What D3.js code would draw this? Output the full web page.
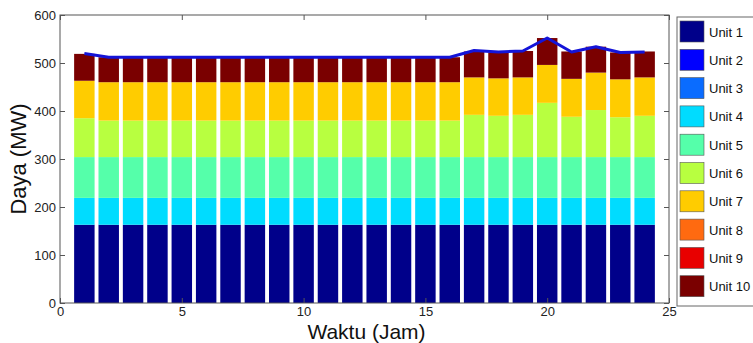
<!DOCTYPE html>
<html>
<head>
<meta charset="utf-8">
<script src="https://cdn.jsdelivr.net/npm/d3@7"></script>
<style>
  body { margin: 0; background: #fff; }
  svg { font-family: Arial, "Liberation Sans", sans-serif; }
</style>
</head>
<body>
<div id="chart"></div>
<script>
// data (MW per hour)
const hours = [1, 2, 3, 4, 5, 6, 7, 8, 9, 10, 11, 12, 13, 14, 15, 16, 17, 18, 19, 20, 21, 22, 23, 24];
const units = ['Unit 1', 'Unit 2', 'Unit 3', 'Unit 4', 'Unit 5', 'Unit 6', 'Unit 7', 'Unit 8', 'Unit 9', 'Unit 10'];
const unitColors = ['#00008a', '#0000ff', '#0a6cff', '#00dcff', '#55ffaa', '#b8ff40', '#ffcc00', '#ff6a10', '#e80000', '#7a0000'];

const unit1 = [163, 163, 163, 163, 163, 163, 163, 163, 163, 163, 163, 163, 163, 163, 163, 163, 163, 163, 163, 163, 163, 163, 163, 163];
const unit2 = [0, 0, 0, 0, 0, 0, 0, 0, 0, 0, 0, 0, 0, 0, 0, 0, 0, 0, 0, 0, 0, 0, 0, 0];
const unit3 = [0, 0, 0, 0, 0, 0, 0, 0, 0, 0, 0, 0, 0, 0, 0, 0, 0, 0, 0, 0, 0, 0, 0, 0];
const unit4 = [56, 56, 56, 56, 56, 56, 56, 56, 56, 56, 56, 56, 56, 56, 56, 56, 56, 56, 56, 56, 56, 56, 56, 56];
const unit5 = [85, 85, 85, 85, 85, 85, 85, 85, 85, 85, 85, 85, 85, 85, 85, 85, 85, 85, 85, 85, 85, 85, 85, 85];
const unit6 = [81, 76, 76, 76, 76, 76, 76, 76, 76, 76, 76, 76, 76, 76, 76, 76, 88, 86, 88, 113, 84, 98, 83, 86];
const unit7 = [78, 80, 80, 80, 80, 80, 80, 80, 80, 80, 80, 80, 80, 80, 80, 80, 78, 78, 78, 79, 79, 78, 79, 80];
const unit8 = [0, 0, 0, 0, 0, 0, 0, 0, 0, 0, 0, 0, 0, 0, 0, 0, 0, 0, 0, 0, 0, 0, 0, 0];
const unit9 = [0, 0, 0, 0, 0, 0, 0, 0, 0, 0, 0, 0, 0, 0, 0, 0, 0, 0, 0, 0, 0, 0, 0, 0];
const unit10 = [56, 52, 52, 52, 52, 52, 52, 52, 52, 52, 52, 52, 52, 52, 52, 52, 54, 54, 55, 56, 57, 54, 56, 54];
// load curve (beban)
const beban = [520, 512, 512, 512, 512, 512, 512, 512, 512, 512, 512, 512, 512, 512, 512, 512, 526, 523, 525, 552, 523, 534, 522, 523];

const xTicks = [0, 5, 10, 15, 20, 25];
const yTicks = [0, 100, 200, 300, 400, 500, 600];

function drawChart() {
  const W = 753, H = 343;
  const m = { left: 60, right: 84, top: 15, bottom: 40 };
  const pw = W - m.left - m.right;
  const ph = H - m.top - m.bottom;

  const svg = d3.select('#chart').append('svg').attr('width', W).attr('height', H);
  const g = svg.append('g').attr('transform', `translate(${m.left},${m.top})`);

  const x = d3.scaleLinear().domain([0, 25]).range([0, pw]);
  const y = d3.scaleLinear().domain([0, 600]).range([ph, 0]);

  const series = [unit1, unit2, unit3, unit4, unit5, unit6, unit7, unit8, unit9, unit10];
  const rows = hours.map((h, i) => {
    const r = { hour: h };
    units.forEach((u, k) => { r[u] = series[k][i]; });
    return r;
  });
  const stacked = d3.stack().keys(units)(rows);

  const bw = (x(1) - x(0)) * 0.84;

  g.selectAll('g.layer')
    .data(stacked)
    .enter()
    .append('g')
    .attr('class', 'layer')
    .attr('fill', (d, i) => unitColors[i])
    .selectAll('rect')
    .data((d) => d)
    .enter()
    .append('rect')
    .attr('x', (d) => x(d.data.hour) - bw / 2)
    .attr('y', (d) => y(d[1]))
    .attr('width', bw)
    .attr('height', (d) => Math.max(0, y(d[0]) - y(d[1])));

  // load line
  const line = d3.line().x((d, i) => x(hours[i])).y((d) => y(d));
  g.append('path')
    .datum(beban)
    .attr('fill', 'none')
    .attr('stroke', '#1414d8')
    .attr('stroke-width', 3)
    .attr('stroke-linejoin', 'round')
    .attr('d', line);

  // box + ticks (matlab style, ticks inside)
  const axisCol = '#555';
  g.append('rect')
    .attr('width', pw).attr('height', ph)
    .attr('fill', 'none').attr('stroke', axisCol).attr('stroke-width', 1);

  const xAxis = g.append('g').attr('transform', `translate(0,${ph})`)
    .call(d3.axisBottom(x).tickValues(xTicks).tickSizeInner(-5).tickSizeOuter(0).tickPadding(4));
  const xTop = g.append('g')
    .call(d3.axisTop(x).tickValues(xTicks).tickSizeInner(-5).tickSizeOuter(0).tickFormat(''));
  const yAxis = g.append('g')
    .call(d3.axisLeft(y).tickValues(yTicks).tickSizeInner(-5).tickSizeOuter(0).tickPadding(4));
  const yRight = g.append('g').attr('transform', `translate(${pw},0)`)
    .call(d3.axisRight(y).tickValues(yTicks).tickSizeInner(-5).tickSizeOuter(0).tickFormat(''));

  [xAxis, xTop, yAxis, yRight].forEach((a) => {
    a.select('.domain').remove();
    a.selectAll('line').attr('stroke', axisCol);
    a.selectAll('text').attr('fill', '#222').style('font-size', '13px')
      .style('font-family', 'Arial, "Liberation Sans", sans-serif');
  });

  // axis titles
  svg.append('text')
    .attr('x', m.left + x(12.5) + 2)
    .attr('y', 339)
    .attr('text-anchor', 'middle')
    .style('font-size', '21px')
    .attr('fill', '#111')
    .text('Waktu (Jam)');

  svg.append('text')
    .attr('transform', `translate(26,${m.top + ph / 2}) rotate(-90)`)
    .attr('text-anchor', 'middle')
    .style('font-size', '22px')
    .attr('fill', '#111')
    .text('Daya (MW)');

  // legend
  const lg = svg.append('g').attr('transform', 'translate(677,17)');
  lg.append('rect')
    .attr('width', 80).attr('height', 289)
    .attr('fill', '#fff').attr('stroke', '#666');
  const items = lg.selectAll('g.item')
    .data(units)
    .enter()
    .append('g')
    .attr('class', 'item')
    .attr('transform', (d, i) => `translate(3,${4 + i * 28.3})`);
  items.append('rect')
    .attr('width', 24).attr('height', 21)
    .attr('fill', (d, i) => unitColors[i])
    .attr('stroke', '#555').attr('stroke-width', 0.6);
  items.append('text')
    .attr('x', 29).attr('y', 15.5)
    .style('font-size', '13px')
    .attr('fill', '#111')
    .text((d) => d);
}

window.onload = function () {
  drawChart();
};
</script>
</body>
</html>
